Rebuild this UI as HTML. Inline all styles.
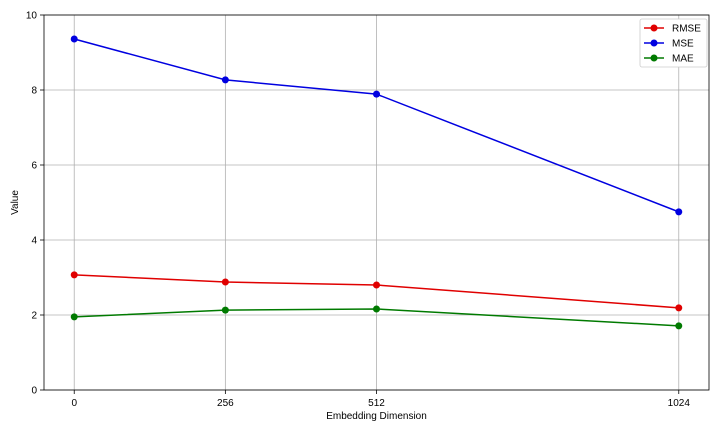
<!DOCTYPE html>
<html><head><meta charset="utf-8"><style>
body{margin:0;background:#fff;font-family:"Liberation Sans","DejaVu Sans",sans-serif;}
svg text{font-family:"Liberation Sans","DejaVu Sans",sans-serif;font-size:10px;fill:#000;}
</style></head><body>
<svg id="chart" width="720" height="432" xmlns="http://www.w3.org/2000/svg">
<rect width="720" height="432" fill="#fff"/>
<g id="grid"></g><g id="axes"></g><g id="series"></g><g id="legend"></g>
</svg>
<script>
const categories=[0,256,512,1024];
const yTicks=[0,2,4,6,8,10];
const seriesNames=["RMSE","MSE","MAE"];
const seriesColors=["#e00000","#0000e0","#007a00"];
const rmse=[3.07,2.88,2.80,2.19];
const mse=[9.36,8.27,7.89,4.75];
const mae=[1.95,2.13,2.16,1.71];
const allSeries=[rmse,mse,mae];
const L=44,R=709,T=15,B=390;
const xMin=-51.2,xMax=1075.2,yMin=0,yMax=10;
const xs=v=>L+(v-xMin)/(xMax-xMin)*(R-L);
const ys=v=>B-(v-yMin)/(yMax-yMin)*(B-T);
const NS="http://www.w3.org/2000/svg";
function mk(t,a,p){const e=document.createElementNS(NS,t);for(const k in a)e.setAttribute(k,a[k]);p.appendChild(e);return e;}
const grid=document.getElementById('grid'),axes=document.getElementById('axes'),ser=document.getElementById('series'),leg=document.getElementById('legend');
categories.forEach(c=>{const x=xs(c);
 const g=mk('line',{x1:x,x2:x,y1:T,y2:B,stroke:'#b0b0b0','stroke-width':0.8},grid);
 
 
 mk('line',{x1:x,x2:x,y1:B,y2:B+4,stroke:'#000','stroke-width':0.8},axes);
 const t=mk('text',{x:x,y:B+16,'text-anchor':'middle'},axes);t.textContent=c;
 
 });
yTicks.forEach(v=>{const y=ys(v);
 const g=mk('line',{x1:L,x2:R,y1:y,y2:y,stroke:'#b0b0b0','stroke-width':0.8},grid);
 
 
 mk('line',{x1:L-4,x2:L,y1:y,y2:y,stroke:'#000','stroke-width':0.8},axes);
 const t=mk('text',{x:L-7,y:y+3.5,'text-anchor':'end'},axes);t.textContent=v;
 
 });
const fr=mk('rect',{x:L,y:T,width:R-L,height:B-T,fill:'none',stroke:'#000','stroke-width':0.8},axes);


const xl=mk('text',{x:(L+R)/2,y:419,'text-anchor':'middle'},axes);xl.textContent='Embedding Dimension';


const yl=mk('text',{x:18,y:(T+B)/2,'text-anchor':'middle',transform:`rotate(-90 18 ${(T+B)/2})`},axes);yl.textContent='Value';


allSeries.forEach((s,i)=>{
 const pl=mk('polyline',{points:s.map((v,j)=>xs(categories[j])+','+ys(v)).join(' '),fill:'none',stroke:seriesColors[i],'stroke-width':1.5},ser);
 
 
 s.forEach((v,j)=>{const c=mk('circle',{cx:xs(categories[j]),cy:ys(v),r:3.5,fill:seriesColors[i]},ser);
  
  });
});
const lb=mk('rect',{x:640,y:19,width:67,height:48,rx:2,fill:'#fff',stroke:'#ccc','stroke-width':0.8},leg);


seriesNames.forEach((n,i)=>{const y=28+i*15;
 const g=mk('g',{},leg);
 
 
 mk('line',{x1:644,x2:664,y1:y,y2:y,stroke:seriesColors[i],'stroke-width':1.5},g);
 mk('circle',{cx:654,cy:y,r:3.5,fill:seriesColors[i]},g);
 const t=mk('text',{x:672,y:y+3.5},g);t.textContent=n;});
</script>
</body></html>
